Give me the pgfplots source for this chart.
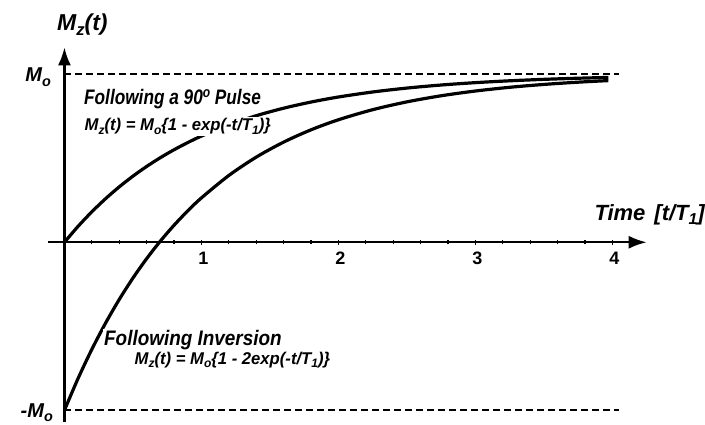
\documentclass[border=0pt]{standalone}
\usepackage{pgfplots}
\pgfplotsset{compat=1.18}
\usepackage{fontspec}
\setmainfont{Liberation Sans}
\usetikzlibrary{arrows.meta}
\newcommand\sub[1]{\raisebox{-0.4ex}{\scalebox{0.72}{#1}}}
\newcommand\fs[1]{\fontsize{#1}{#1}\selectfont\bfseries\itshape}
\begin{document}
\begin{tikzpicture}
\path[use as bounding box] (0,0) rectangle (705pt,424pt);
\begin{axis}[
  at={(48pt,2pt)}, anchor=south west,
  scale only axis, width=598.7pt, height=374.6pt,
  xmin=-0.12, xmax=4.25, ymin=-1.07, ymax=1.16,
  axis lines=middle,
  axis line style={line width=2.2pt, -{Latex[length=18pt,width=13pt]}},
  xtick={1,2,3,4}, xticklabels={1,2,3,4},
  xticklabel style={font=\fontsize{18}{18}\selectfont\bfseries, yshift=-4pt, xshift=2pt},
  ytick=\empty,
  minor xtick={0.2,0.4,0.6,0.8,1.2,1.4,1.6,1.8,2.2,2.4,2.6,2.8,3.2,3.4,3.6,3.8,4.0},
  minor ytick={-1,-0.9,-0.8,-0.7,-0.6,-0.5,-0.4,-0.3,-0.2,-0.1,0.1,0.2,0.3,0.4,0.5,0.6,0.7,0.8,0.9,1.0},
  major tick length=5pt, minor tick length=4pt,
  tick style={black, line width=1.2pt},
  clip=false,
]
\addplot[black, line width=1.8pt, dash pattern=on 7pt off 4pt] coordinates {(0,1) (4.05,1)};
\addplot[black, line width=1.8pt, dash pattern=on 7pt off 4pt] coordinates {(0,-1) (4.05,-1)};
\addplot[black, line width=3.2pt, smooth] coordinates {
(0,0) (0.1,0.0952) (0.2,0.1813) (0.3,0.2592) (0.4,0.3297) (0.5,0.3935)
(0.6,0.4512) (0.7,0.5034) (0.8,0.5507) (0.9,0.5934) (1.0,0.6321)
(1.2,0.6988) (1.4,0.7534) (1.6,0.7981) (1.8,0.8347) (2.0,0.8647)
(2.25,0.8946) (2.5,0.9179) (2.75,0.9361) (3.0,0.9502) (3.25,0.9612)
(3.5,0.9698) (3.75,0.9765) (3.97,0.9811)};
\addplot[black, line width=3.2pt, smooth] coordinates {
(0,-1) (0.1,-0.8097) (0.2,-0.6375) (0.3,-0.4816) (0.4,-0.3406) (0.5,-0.2131)
(0.6,-0.0976) (0.7,0.0068) (0.8,0.1013) (0.9,0.1869) (1.0,0.2642)
(1.2,0.3976) (1.4,0.5068) (1.6,0.5962) (1.8,0.6694) (2.0,0.7293)
(2.25,0.7892) (2.5,0.8358) (2.75,0.8721) (3.0,0.9004) (3.25,0.9225)
(3.5,0.9396) (3.75,0.9530) (3.97,0.9623)};
\end{axis}
% labels (positions in pixel units of the reference, y measured from top)
\node[anchor=base west, inner sep=0pt] at (57pt,{424pt-31pt}) {\fs{23}M\sub{z}(t)};
\node[anchor=base east, inner sep=0pt] at (51pt,{424pt-82pt}) {\fs{20}M\sub{o}};
\node[anchor=base east, inner sep=0pt] at (53pt,{424pt-417pt}) {\fs{20}-M\sub{o}};
\node[anchor=base east, inner sep=0pt] at (705pt,{424pt-220pt}) {\fs{22}Time\hspace{9pt}[t/T\sub{1}]};
\node[anchor=base west, inner sep=1pt, fill=white] at (83pt,{424pt-105pt}) {\scalebox{0.82}[1]{\fs{21}Following a 90\raisebox{0.7ex}{\scalebox{0.7}{o}} Pulse}};
\node[anchor=base west, inner sep=1.5pt, fill=white] at (83pt,{424pt-131pt}) {\scalebox{0.98}[1]{\fs{17}M\sub{z}(t) = M\sub{o}\{1 - exp(-t/T\sub{1})\}}};
\node[anchor=base west, inner sep=1pt, fill=white] at (103pt,{424pt-345pt}) {\scalebox{0.9}[1]{\fs{21}Following Inversion}};
\node[anchor=base west, inner sep=1.5pt, fill=white] at (133pt,{424pt-364pt}) {\scalebox{0.98}[1]{\fs{17}M\sub{z}(t) = M\sub{o}\{1 - 2exp(-t/T\sub{1})\}}};
\end{tikzpicture}
\end{document}
